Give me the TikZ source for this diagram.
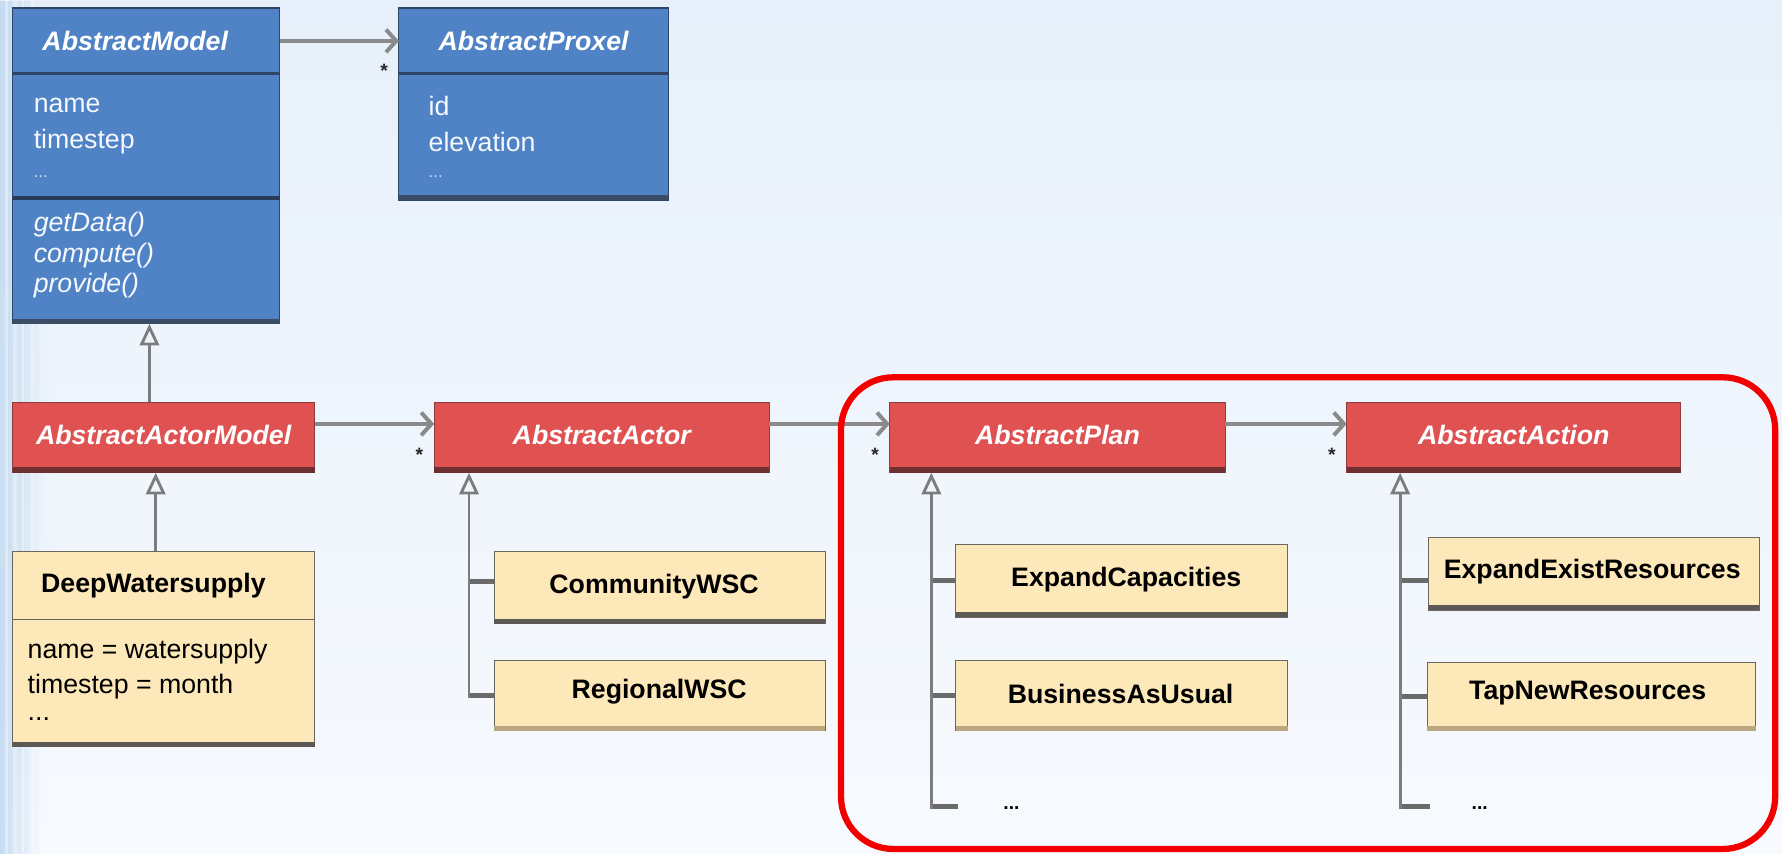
\documentclass[tikz,border=0pt]{standalone}
\usepackage{fontspec}
\setmainfont{Liberation Sans}
\usetikzlibrary{arrows.meta,calc,fadings}

\definecolor{bgtop}{HTML}{E7F0FA}
\definecolor{bgbot}{HTML}{F7FAFE}
\definecolor{haze}{HTML}{BBD5EE}
\definecolor{clsblue}{HTML}{4F83C6}
\definecolor{clsblueline}{HTML}{2E4568}
\definecolor{clsbluedk}{HTML}{3A4C66}
\definecolor{clsred}{HTML}{E05151}
\definecolor{clsredline}{HTML}{8E3B3B}
\definecolor{clsreddk}{HTML}{6E2F31}
\definecolor{clsyel}{HTML}{FDE8B9}
\definecolor{clsyelline}{HTML}{6B665E}
\definecolor{clsyeldk}{HTML}{5C5854}
\definecolor{clsyeltan}{HTML}{BBA67F}
\definecolor{linkgray}{HTML}{8A8A8A}
\definecolor{treegray}{HTML}{7C7C7C}
\definecolor{stubgray}{HTML}{6A6A6A}
\definecolor{framered}{HTML}{F20000}

\newcommand{\umlfont}{\fontsize{23.5}{28}\selectfont}

\tikzset{
  uml/.style={draw, line width=1pt, inner sep=0pt, outer sep=0pt},
  bluecls/.style={uml, fill=clsblue, draw=clsblueline},
  redcls/.style={uml, fill=clsred, draw=clsredline},
  yelcls/.style={uml, fill=clsyel, draw=clsyelline},
  hdr/.style={inner sep=0pt, outer sep=0pt, draw=none},
  abstractname/.style={text=white, font=\umlfont\bfseries\itshape, inner sep=0pt},
  concretename/.style={text=black, font=\umlfont\bfseries, inner sep=0pt},
  attrblue/.style={text=white!94!clsblue, font=\umlfont, anchor=west, inner sep=0pt},
  opblue/.style={attrblue, font=\umlfont\itshape},
  dotsblue/.style={attrblue, font=\fontsize{15}{18}\selectfont, text=white!70!clsblue},
  attryel/.style={text=black, font=\umlfont, anchor=west, inner sep=0pt},
  moredots/.style={text=black, font=\fontsize{17}{20}\selectfont\bfseries, inner sep=0pt},
  assoc/.style={draw=linkgray, line width=3.5pt, -{Straight Barb[length=9pt,width=20pt]}},
  mult/.style={text=black!85, font=\fontsize{17}{17}\selectfont\bfseries, inner sep=0pt},
  trunk/.style={draw=treegray, line width=2.5pt},
  inherit/.style={trunk, -{Triangle[open, length=19pt, width=17pt, line width=2.5pt]}},
  stub/.style={draw=stubgray, line width=4.5pt},
  sepline/.style={line width=2.5pt},
  hiliteframe/.style={draw=framered, line width=5.5pt, rounded corners=46pt},
}

\begin{document}
\begin{tikzpicture}[x=1pt,y=-1pt]
% page and background
\useasboundingbox (0,0) rectangle (1568,751);
\shade[top color=bgtop, bottom color=bgbot] (0,0) rectangle (1568,751);
\fill[haze, path fading=east, opacity=0.8] (0,0) rectangle (36,751);
\fill[haze!70!white, path fading=east, opacity=0.45] (0,250) rectangle (50,500);
\foreach \sx/\sw in {4/3,11/4,19/2,27/3}{
  \fill[white, opacity=0.35] (\sx,0) rectangle ++(\sw,751);
}

% ---------- abstract model layer (blue) ----------
\node[bluecls, minimum width=235pt, minimum height=278pt] (am) at (128.5,146) {};
\node[hdr, minimum width=235pt, minimum height=58pt] (amh) at (128.5,36) {};
\fill[clsbluedk] ([yshift=4pt]am.south west) rectangle (am.south east);
\draw[sepline, clsblueline] (amh.south west) -- (amh.south east);
\draw[line width=3.5pt, clsblueline!85!black] ($(am.north west)+(0,167)$) -- ($(am.north east)+(0,167)$);
\node[abstractname] (amname) at (119,36) {AbstractModel};
\node[attrblue] (amattr1) at (29.5,93) {name};
\node[attrblue] (amattr2) at (29.5,125) {timestep};
\node[dotsblue] (amattr3) at (29.5,155) {...};
\node[opblue] (amop1) at (29.5,198) {getData()};
\node[opblue] (amop2) at (29.5,225) {compute()};
\node[opblue] (amop3) at (29.5,251) {provide()};

\node[bluecls, minimum width=237pt, minimum height=169pt] (ap) at (469.5,91.5) {};
\node[hdr, minimum width=237pt, minimum height=58pt] (aph) at (469.5,36) {};
\fill[clsbluedk] ([yshift=4pt]ap.south west) rectangle (ap.south east);
\draw[sepline, clsblueline] (aph.south west) -- (aph.south east);
\node[abstractname] (apname) at (469.5,36) {AbstractProxel};
\node[attrblue] (apattr1) at (377,93) {id};
\node[attrblue] (apattr2) at (377,125) {elevation};
\node[dotsblue] (apattr3) at (377,155) {...};

% ---------- actor layer (red) ----------
\foreach \nm/\cx/\bw/\txt in {aam/144/266/AbstractActorModel,
                              aa/529.5/295/AbstractActor,
                              apl/930.5/295/AbstractPlan,
                              aac/1332/294/AbstractAction}{
  \node[redcls, minimum width=\bw pt, minimum height=62pt] (\nm) at (\cx,385) {};
  \fill[clsreddk] ([yshift=5pt]\nm.south west) rectangle (\nm.south east);
  \node[abstractname] (\nm name) at (\cx,383) {\txt};
}

% ---------- concrete classes (yellow) ----------
\node[yelcls, minimum width=266pt, minimum height=172pt] (dw) at (144,571) {};
\fill[clsyeldk] ([yshift=4pt]dw.south west) rectangle (dw.south east);
\draw[line width=1.2pt, clsyelline] ($(dw.north west)+(0,60)$) -- ($(dw.north east)+(0,60)$);
\node[concretename] (dwname) at (135,515) {DeepWatersupply};
\node[attryel] (dwattr1) at (24.2,573) {name = watersupply};
\node[attryel] (dwattr2) at (24.2,604) {timestep = month};
\node[attryel] (dwattr3) at (24.2,633) {...};

\foreach \nm/\cx/\cy/\bw/\bh/\tx/\ty/\shd/\txt in {
    cw/580.5/517/291/64/575.5/516/clsyeldk/CommunityWSC,
    rw/580.5/612/291/62/580/609/clsyeltan/RegionalWSC,
    ec/987/511/292/64/991/510/clsyeldk/ExpandCapacities,
    bu/987/612/292/62/986/611/clsyeltan/BusinessAsUsual,
    eer/1402.5/505/291/64/1401/503/clsyeldk/ExpandExistResources,
    tnr/1400.5/613/289/60/1397/610/clsyeltan/TapNewResources}{
  \node[yelcls, minimum width=\bw pt, minimum height=\bh pt] (\nm) at (\cx,\cy) {};
  \fill[\shd] ([yshift=4.5pt]\nm.south west) rectangle (\nm.south east);
  \node[concretename] (\nm name) at (\tx,\ty) {\txt};
}

% ---------- associations ----------
\draw[assoc] (amh.east) -- (aph.west);
\node[mult] (m1) at ($(aph.west)+(-13,26)$) {*};
\draw[assoc] ($(aam.east)+(0,-12)$) -- ($(aa.west)+(0,-12)$);
\node[mult] (m2) at ($(aa.west)+(-13,15)$) {*};
\draw[assoc] ($(aa.east)+(0,-12)$) -- ($(apl.west)+(0,-12)$);
\node[mult] (m3) at ($(apl.west)+(-13,15)$) {*};
\draw[assoc] ($(apl.east)+(0,-12)$) -- ($(aac.west)+(0,-12)$);
\node[mult] (m4) at ($(aac.west)+(-13,15)$) {*};

% ---------- generalisations ----------
\draw[inherit] ($(aam.north)+(-12.5,0)$) -- ($(am.south)+(3,0)$);
\draw[inherit] ($(dw.north)+(-7,0)$) -- ($(aam.south)+(-7,0)$);

% actor subclasses
\coordinate (aatr) at ($(aa.south west)+(30.7,0)$);
\coordinate (cwb) at ($(cw.west)+(0,-5)$);
\draw[stub] (cwb) -- (cwb -| aatr);
\draw[stub] (rw.west) -- (rw.west -| aatr);
\draw[inherit, shorten <=-2.2pt] (rw.west -| aatr) -- (aatr);

% plan subclasses
\coordinate (pltr) at ($(apl.south west)+(36.5,0)$);
\coordinate (pldots) at ($(bu.south west)+(2,67)$);
\draw[stub] (ec.west) -- (ec.west -| pltr);
\draw[stub] (bu.west) -- (bu.west -| pltr);
\draw[stub] (pldots) -- (pldots -| pltr);
\draw[inherit, shorten <=-2.2pt] (pldots -| pltr) -- (pltr);
\node[moredots] (plmore) at ($(pldots)+(47,1)$) {...};

% action subclasses
\coordinate (actr) at ($(aac.south west)+(47,0)$);
\coordinate (eerb) at ($(eer.west)+(0,6)$);
\coordinate (acdots) at ($(tnr.south west)+(2,67)$);
\draw[stub] (eerb) -- (eerb -| actr);
\draw[stub] (tnr.west) -- (tnr.west -| actr);
\draw[stub] (acdots) -- (acdots -| actr);
\draw[inherit, shorten <=-2.2pt] (acdots -| actr) -- (actr);
\node[moredots] (acmore) at ($(acdots)+(44,1)$) {...};

% ---------- highlight around plans and actions ----------
\draw[hiliteframe] (740,332) rectangle (1562,747);
\end{tikzpicture}
\end{document}
